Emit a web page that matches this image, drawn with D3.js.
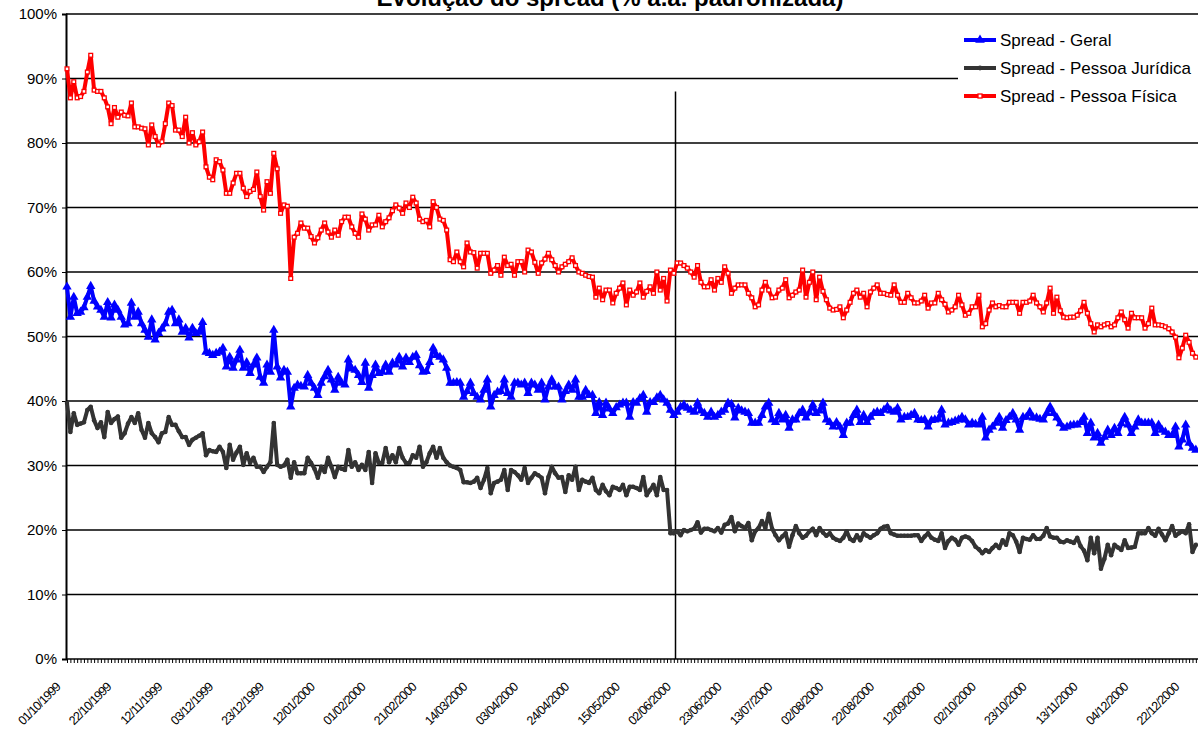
<!DOCTYPE html>
<head>
  <meta charset="utf-8">
  <script src="https://d3js.org/d3.v7.min.js"></script>
  <style>
    body { margin: 0; background: #fff; }
    svg { display: block; font-family: "Liberation Sans", Arial, sans-serif; }
  </style>
</head>
<body>
  <svg width="1198" height="740"></svg>
  <script>
    // x axis labels, one every 15 business days
    var tickLabels = ["01/10/1999", "22/10/1999", "12/11/1999", "03/12/1999", "23/12/1999", "12/01/2000",
      "01/02/2000", "21/02/2000", "14/03/2000", "03/04/2000", "24/04/2000", "15/05/2000", "02/06/2000",
      "23/06/2000", "13/07/2000", "02/08/2000", "22/08/2000", "12/09/2000", "02/10/2000", "23/10/2000",
      "13/11/2000", "04/12/2000", "22/12/2000"];
    var labelStep = 15;
    var breakIndex = 179.5; // vertical marker line

    var seriesNames = ["Spread - Geral", "Spread - Pessoa Jurídica", "Spread - Pessoa Física"];

    // Spread - Geral (% a.a.)
    var geral = [
      57.7, 53, 56.1, 53.6, 53.8, 54.5, 56.1, 57.8, 55.5, 54.6, 54.1, 53, 55.3, 52.9, 54.9,
      54.1, 53, 51.8, 52, 55.2, 53, 53.8, 52, 51, 49.9, 52.6, 49.5, 50.5, 51.2, 52,
      53.8, 54.1, 52, 52.6, 50.7, 51.3, 49.8, 51.3, 50.5, 50.7, 52.2, 47.6, 47.4, 47.1, 47.4,
      47.6, 48.2, 45.3, 46.8, 45.1, 46.4, 47.9, 45.1, 46, 44.3, 45.6, 46.7, 43.7, 42.8, 45.6,
      44.5, 51, 45.3, 43.6, 44.8, 44.5, 39.1, 42, 42.5, 42.3, 42.2, 44, 42.8, 42, 40.9,
      42.8, 43.8, 44.8, 43.3, 41.7, 43.7, 42.8, 42.5, 46.4, 45, 44.8, 44, 42.9, 45.9, 42,
      44, 45.6, 44.3, 44.5, 45.6, 44.5, 45.9, 45.6, 46.8, 45.3, 46.7, 46, 46.8, 47.1, 45.5,
      44.5, 44.6, 46, 48.2, 47.1, 46.8, 46.4, 45.1, 42.8, 42.8, 42.9, 42.8, 40.6, 41.5, 42.8,
      41.2, 40.6, 40.2, 41.7, 43.3, 39.1, 40.9, 41.4, 41.5, 43.3, 41.2, 40.6, 42.8, 42.8, 42.5,
      42.8, 41.2, 42.8, 42.5, 41.7, 42.8, 40.2, 42.2, 43.3, 42.2, 42.2, 40.2, 41.5, 42.5, 41.7,
      43.3, 40.6, 40.6, 41.7, 40.9, 40.9, 38.1, 39.8, 37.8, 39.7, 38.8, 38.1, 39, 39.4, 39.7,
      39.7, 37.5, 39.8, 39.7, 40.4, 40.9, 38.3, 39.8, 39.8, 40.5, 40.9, 40.2, 39.7, 38.6, 37.8,
      38.3, 39.1, 39.4, 38.9, 38.6, 38.3, 39.7, 38.5, 38.1, 37.5, 38.3, 37.5, 37.8, 38.3, 38.6,
      39.7, 39.5, 37.4, 38.9, 38.5, 38.3, 38.1, 36.6, 36.6, 36.6, 37.8, 39.1, 39.7, 37.1, 36.7,
      38.1, 37.1, 37.8, 35.8, 37.1, 37.1, 38.1, 38.6, 37.4, 38.2, 39.4, 38.1, 38.5, 39.7, 37.1,
      36.7, 36, 36.7, 36, 34.7, 36.6, 36.6, 37.8, 38.6, 36.7, 37.8, 36.7, 37.5, 38.1, 38.3,
      38.1, 38.6, 39.1, 38.5, 38.3, 38.9, 37.1, 37.5, 37.5, 37.8, 38.1, 37.1, 37, 37.1, 36,
      37, 37.1, 37.2, 38.6, 36.3, 36.6, 36.7, 36.9, 37.1, 37.5, 37.1, 36.3, 36.6, 36.4, 36.3,
      37.5, 34.3, 35.5, 36, 36.6, 37.5, 35.8, 37, 37.5, 38.1, 37.1, 35.5, 37.5, 37.5, 38.3,
      37.4, 37.4, 37.2, 37.1, 38.1, 39.1, 38.1, 37.4, 36.5, 35.8, 36, 36.2, 36.3, 36.3, 36.7,
      37.5, 35, 36.6, 34.3, 35, 33.5, 34.4, 35.5, 34.7, 35.8, 35, 36.5, 37.5, 36.3, 35,
      36, 37.1, 36.6, 36.6, 36.6, 36.6, 35, 36.3, 35.5, 35.2, 34.7, 34.7, 36, 32.9, 34,
      36.3, 33.5, 32.7, 32.4
    ];

    // Spread - Pessoa Jurídica (% a.a.)
    var juridica = [
      39.7, 35.2, 38.1, 36.3, 36.5, 36.7, 38.6, 39.1, 37, 35.8, 36.7, 34.4, 38.3, 36.6, 37.2,
      37.6, 34.3, 35, 36.5, 37.5, 36.6, 38.1, 35.5, 34.3, 36.6, 35, 34.4, 33.6, 35, 35.2,
      37.5, 36.3, 36.3, 35.3, 34.4, 34.4, 33.2, 34, 34.3, 34.6, 35, 31.6, 32.4, 32.2, 32.1,
      32.9, 32.1, 29.6, 33.2, 30.9, 32, 32.9, 30.1, 31.9, 30.4, 31.2, 29.8, 29.8, 29, 29.8,
      30.5, 36.6, 30.1, 29.8, 30, 30.9, 28.1, 30.5, 28.8, 28.8, 28.8, 31.2, 30.4, 29.5, 28.1,
      29.8, 29, 31.2, 29.8, 28.2, 29.8, 29.5, 29.3, 32.4, 29.8, 30.5, 29.3, 30.1, 29.3, 32.1,
      27.3, 31.9, 30.4, 30.4, 32.7, 30.5, 31.6, 30.5, 32.7, 31.2, 30.4, 30.4, 31.6, 31.2, 32.9,
      29.8, 30.5, 31.9, 32.9, 31.2, 32.7, 31.2, 30.5, 30, 29.8, 29.6, 29.3, 27.4, 27.4, 27.3,
      27.5, 28.1, 26.5, 27.8, 29.6, 25.7, 27.3, 27.5, 27.8, 29.3, 26.2, 29.3, 29, 28.5, 27.8,
      29.6, 27.3, 28.1, 28.8, 28.5, 28.1, 25.7, 28.2, 29.8, 28.8, 28.1, 28.2, 25.9, 28.5, 27.8,
      29.8, 26.2, 27.8, 27.5, 27.3, 28.1, 26.2, 25.7, 27, 26, 25.4, 26.7, 26.5, 26.2, 27,
      25.4, 26.7, 26.7, 26.5, 26.2, 28.2, 25.4, 26.2, 27, 25.4, 28.2, 26.2, 26.2, 19.5, 19.5,
      19.8, 19.2, 20, 19.8, 20, 20.2, 21.2, 19.6, 20.2, 20.2, 20, 19.8, 20.3, 19.6, 20.8,
      21, 22, 19.8, 21, 20.6, 20.3, 21.1, 18.4, 19.8, 20.3, 21.4, 20.3, 22.5, 20.2, 19.2,
      18.4, 19, 19.5, 17.4, 19.2, 20.6, 19.5, 18.8, 19.1, 19.8, 20.2, 19.2, 20.3, 19.6, 19.1,
      19.5, 18.8, 18.5, 18.3, 18.8, 19.8, 18.6, 18.3, 19.2, 18.4, 19.5, 19.1, 18.8, 19.2, 19.5,
      20.2, 20.5, 20.6, 19.5, 19.3, 19.1, 19.1, 19.1, 19.1, 19.1, 19.2, 19.2, 18.3, 19, 19.5,
      18.8, 18.5, 18.3, 19.5, 17.2, 18.3, 18.8, 18.5, 17.7, 18.8, 19, 18.8, 18.3, 17.4, 17,
      16.4, 16.9, 16.6, 17.2, 17.7, 17.2, 18.4, 17.7, 19.5, 19.2, 18.2, 16.6, 18.8, 18.6, 18.5,
      19.2, 18.6, 18.6, 19.1, 20.3, 19, 18.8, 18.8, 18.2, 18.1, 18.4, 18.2, 18, 18.8, 17.5,
      16.8, 15.3, 18.8, 16.4, 18.8, 14, 15.5, 17.7, 16.1, 17.7, 17.3, 16.9, 18.4, 17.2, 17.3,
      17.4, 19.5, 19.5, 19.5, 20.3, 19.5, 19.1, 20.2, 19.3, 18.4, 19.5, 20.6, 19.1, 19.5, 19.8,
      19.5, 20.9, 16.6, 17.7
    ];

    // Spread - Pessoa Física (% a.a.)
    var fisica = [
      91.5, 87, 89.5, 87, 87.2, 88, 91, 93.6, 88.2, 88, 88, 87, 85.6, 83, 85.5,
      84, 84.8, 84.3, 84.2, 86.2, 82.5, 82.5, 82.3, 82.2, 79.7, 82.8, 81, 79.7, 80.2, 83,
      86.2, 85.8, 82, 82, 81, 84, 80, 81.6, 79.7, 80.2, 81.7, 76.3, 74.7, 74.3, 77.4,
      77.1, 75.8, 72.2, 72.2, 73.8, 75.3, 75.3, 73, 71.7, 72.5, 72.8, 75.5, 71.7, 69.6, 74,
      72.2, 78.4, 76, 69.1, 70.4, 70.2, 59, 65.4, 66, 67.6, 66.8, 66.8, 65.5, 64.5, 65.3,
      66.5, 67.6, 66.2, 65.4, 66.5, 65.7, 67.8, 68.5, 68.5, 67, 66, 65.4, 69, 68.2, 66.5,
      67.3, 67.3, 68.8, 67, 67.8, 68.4, 69.5, 70.4, 69.9, 69.1, 70.7, 70, 71.6, 70.7, 68.2,
      67.8, 68, 67, 70.9, 70, 68.2, 68, 66.5, 61.9, 61.6, 63.1, 61.6, 60.8, 64.5, 63.1,
      63, 60.6, 62.9, 62.9, 62.9, 59.8, 60.3, 61, 59.5, 62.3, 61, 61.2, 59.5, 61.6, 61.6,
      60, 63.4, 63.1, 61.5, 59.8, 61.4, 62, 62.9, 61.9, 61, 60, 60.8, 61.2, 61.6, 62.2,
      61, 60, 59.8, 59.5, 59.3, 59.2, 56.1, 57.5, 55.7, 57.2, 57.2, 55.2, 56.7, 57.5, 58.3,
      54.9, 57.2, 56.4, 56.9, 58.3, 56.1, 57, 57.7, 56.7, 60, 57.2, 59, 55.5, 60.3, 59.8,
      61.4, 61.4, 61, 60.6, 60, 59.2, 61, 58.4, 57.7, 57.7, 58.8, 57.2, 59, 58.4, 60.8,
      59.8, 56.7, 57.5, 58, 58, 58, 56.7, 56, 54.6, 54.9, 57.2, 58.4, 57.2, 56, 56.1,
      57.2, 57.5, 58.8, 56, 56.4, 56.9, 57.2, 60.3, 56.1, 58.4, 60, 55.7, 59.2, 57, 55.7,
      54.4, 54.1, 54.2, 54.6, 52.9, 54.1, 55.3, 56.7, 57.2, 56.1, 56.7, 54.6, 56.9, 57.5, 58,
      56.7, 56.7, 56.5, 56.4, 58, 56.4, 55.3, 55.3, 56.7, 56, 55.2, 55.2, 55.5, 56.4, 54.4,
      55.2, 55.2, 56.7, 55.7, 55, 53.8, 54.1, 54.6, 56.4, 54.9, 53.3, 53.6, 54.6, 54.6, 56.4,
      51.5, 52, 54.1, 55.2, 54.6, 54.8, 54.6, 54.6, 55.3, 55.3, 55.3, 53.6, 55.3, 55.3, 55.5,
      56.4, 55.2, 54.6, 53.8, 55.2, 57.5, 53.6, 56.1, 54, 53, 52.9, 53, 53, 53.3, 54,
      55.3, 53.6, 52, 50.7, 51.8, 51.5, 51.8, 52, 51.5, 51.8, 52.9, 53.8, 52.6, 51.3, 53.6,
      52.9, 52.9, 52.9, 51.3, 52, 54.4, 51.8, 51.8, 51.7, 51.5, 51.2, 50.7, 49.9, 46.7, 48.2,
      50.2, 49.1, 47.4, 46.8
    ];

    var series = [
      { name: seriesNames[0], values: geral, color: "#0000ff", marker: "triangle" },
      { name: seriesNames[1], values: juridica, color: "#333333", marker: "circle" },
      { name: seriesNames[2], values: fisica, color: "#ff0000", marker: "square" }
    ];

    var svg = d3.select("svg");
    var margin = { top: 14, left: 66, bottom: 81 };
    var plotBottom = 740 - margin.bottom;
    var n = fisica.length;

    var x = d3.scaleLinear().domain([0, n - 1]).range([67, 67 + (n - 1) * 3.39]);
    var y = d3.scaleLinear().domain([0, 1]).range([plotBottom, margin.top]);

    // title (cut by the top of the picture, as in the original)
    svg.append("text")
      .attr("x", 610).attr("y", 6)
      .attr("text-anchor", "middle")
      .attr("font-size", 24).attr("font-weight", "bold")
      .text("Evolução do spread (% a.a. padronizada)");

    // grid lines
    svg.append("g")
      .selectAll("line")
      .data(d3.range(1, 11).map(d => d / 10))
      .enter().append("line")
      .attr("x1", margin.left).attr("x2", 1198)
      .attr("y1", d => y(d)).attr("y2", d => y(d))
      .attr("stroke", "#000").attr("stroke-width", 1.5);

    // y axis
    var yAxis = d3.axisLeft(y)
      .tickValues(d3.range(0, 11).map(d => d / 10))
      .tickFormat(d3.format(".0%"))
      .tickSize(4).tickPadding(5);
    var gy = svg.append("g")
      .attr("transform", "translate(" + margin.left + ",0)")
      .call(yAxis);
    gy.select(".domain").attr("stroke-width", 2);
    gy.selectAll("text").attr("font-size", 15).attr("font-family", "Liberation Sans, Arial").attr("fill", "#000");

    // x axis with a tick for every day
    var xAxis = d3.axisBottom(x)
      .tickValues(d3.range(0, n))
      .tickFormat("")
      .tickSizeOuter(0)
      .tickSize(4);
    var gx = svg.append("g")
      .attr("transform", "translate(0," + plotBottom + ")")
      .call(xAxis);
    gx.select(".domain").attr("d", "M" + margin.left + ",0H1198").attr("stroke-width", 1.5);

    svg.append("g")
      .selectAll("text")
      .data(tickLabels)
      .enter().append("text")
      .attr("transform", (d, i) => "translate(" + (x(i * labelStep) - 6) + "," + (plotBottom + 29) + ") rotate(-45)")
      .attr("text-anchor", "end")
      .attr("font-size", 12.5)
      .attr("letter-spacing", -0.9)
      .attr("fill", "#000")
      .text(d => d);

    // vertical marker line
    svg.append("line")
      .attr("x1", x(breakIndex)).attr("x2", x(breakIndex))
      .attr("y1", y(0.88)).attr("y2", plotBottom)
      .attr("stroke", "#000").attr("stroke-width", 1.5);

    // lines
    var line = d3.line().x((d, i) => x(i)).y(d => y(d / 100));

    function drawMarker(sel, s, size) {
      if (s.marker === "triangle") {
        sel.append("path").attr("d", d3.symbol(d3.symbolTriangle, size * 10)).attr("fill", s.color);
      } else if (s.marker === "circle") {
        sel.append("circle").attr("r", size * 0.6).attr("fill", s.color);
      } else {
        sel.append("rect").attr("x", -size / 2).attr("y", -size / 2)
          .attr("width", size).attr("height", size)
          .attr("fill", "#fff").attr("stroke", s.color).attr("stroke-width", 1.3);
      }
    }

    series.forEach(function (s) {
      svg.append("path")
        .datum(s.values)
        .attr("fill", "none")
        .attr("stroke", s.color)
        .attr("stroke-width", 4)
        .attr("stroke-linejoin", "round")
        .attr("d", line);
      svg.append("g")
        .selectAll("g")
        .data(s.values)
        .enter().append("g")
        .attr("transform", (d, i) => "translate(" + x(i) + "," + y(d / 100) + ")")
        .each(function () { drawMarker(d3.select(this), s, 3.8); });
    });

    // legend
    var legend = svg.append("g");
    legend.append("rect")
      .attr("x", 958).attr("y", 16).attr("width", 240).attr("height", 96)
      .attr("fill", "#fff");
    series.forEach(function (s, i) {
      var ly = 40 + i * 28;
      legend.append("line")
        .attr("x1", 964).attr("x2", 996).attr("y1", ly).attr("y2", ly)
        .attr("stroke", s.color).attr("stroke-width", 4);
      var m = legend.append("g").attr("transform", "translate(980," + ly + ")");
      drawMarker(m, s, 4);
      legend.append("text")
        .attr("x", 1000).attr("y", ly + 6)
        .attr("font-size", 17)
        .text(s.name);
    });
  </script>
</body>
